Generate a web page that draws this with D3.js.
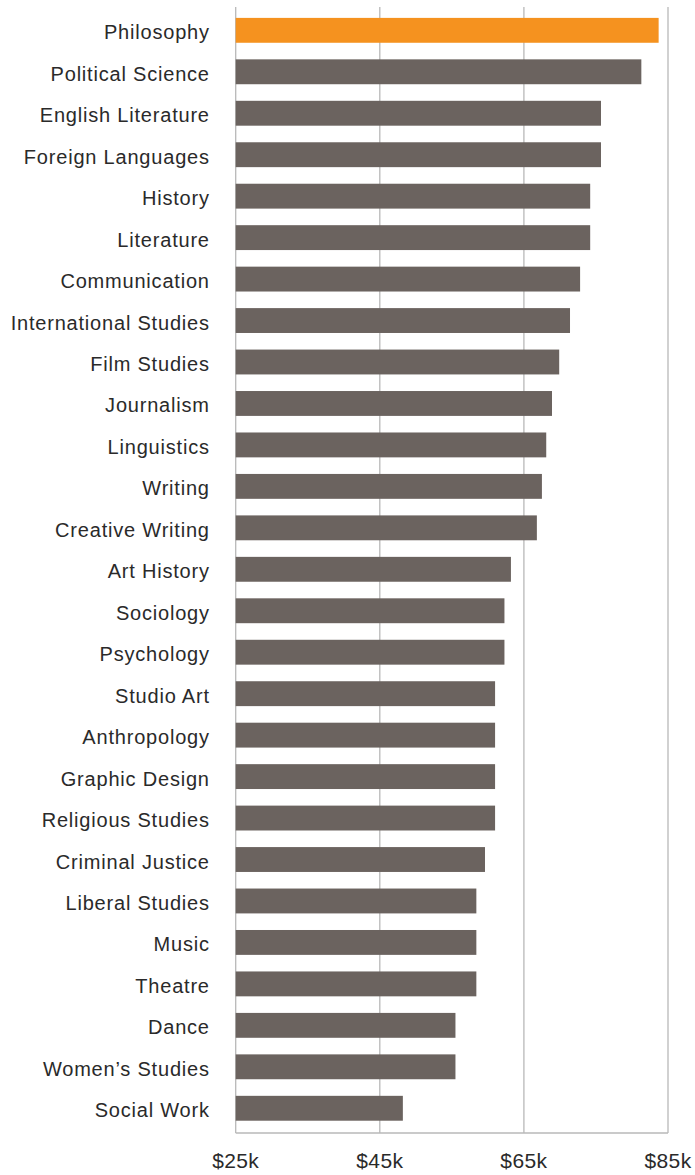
<!DOCTYPE html>
<html><head><meta charset="utf-8">
<script src="https://cdn.jsdelivr.net/npm/d3@7"></script>
<style>body{margin:0;background:#fff;} svg{display:block;}</style>
</head><body>
<svg id="c" width="695" height="1175"></svg>
<script>
const majors = ["Philosophy","Political Science","English Literature","Foreign Languages","History","Literature","Communication","International Studies","Film Studies","Journalism","Linguistics","Writing","Creative Writing","Art History","Sociology","Psychology","Studio Art","Anthropology","Graphic Design","Religious Studies","Criminal Justice","Liberal Studies","Music","Theatre","Dance","Women\u2019s Studies","Social Work"];
const salaries = [83.7,81.3,75.7,75.7,74.2,74.2,72.8,71.4,69.9,68.9,68.1,67.5,66.8,63.2,62.3,62.3,61.0,61.0,61.0,61.0,59.6,58.4,58.4,58.4,55.5,55.5,48.2];
const tickValues = [25,45,65,85];
const tickLabels = ["$25k","$45k","$65k","$85k"];
const highlight = "Philosophy";

const svg = d3.select("#c");
const x = d3.scaleLinear().domain([25,85]).range([235.7,668]);
const y = d3.scaleBand().domain(majors).range([9.6,1129]).paddingInner(0.4).paddingOuter(0.2);
const gridTop = 7, axisY = 1133;
const font = "'Liberation Sans', Arial, Helvetica, sans-serif";

// gridlines
svg.append("g").selectAll("line").data(tickValues).join("line")
  .attr("x1", d=>x(d)).attr("x2", d=>x(d))
  .attr("y1", gridTop).attr("y2", axisY)
  .attr("stroke","#b8b8b8").attr("stroke-width",1.3);

// bottom axis line
svg.append("line").attr("x1", x(25)).attr("x2", x(85)).attr("y1", axisY).attr("y2", axisY)
  .attr("stroke","#b8b8b8").attr("stroke-width",1.3);

// bars
const data = majors.map((m,i)=>({m, v:salaries[i]}));
svg.append("g").selectAll("rect").data(data).join("rect")
  .attr("x", x(25)).attr("y", d=>y(d.m))
  .attr("width", d=>x(d.v)-x(25)).attr("height", y.bandwidth())
  .attr("fill", d=>d.m===highlight ? "#F5921F" : "#6B635F");

// category labels
svg.append("g").selectAll("text").data(majors).join("text")
  .attr("x", 209.8).attr("y", d=>y(d)+y.bandwidth()/2 + 9)
  .attr("text-anchor","end").attr("font-family",font).attr("font-size",20)
  .attr("letter-spacing","0.8px")
  .attr("fill","#2a2a2a").text(d=>d);

// tick labels
svg.append("g").selectAll("text").data(tickValues).join("text")
  .attr("x", d=>x(d)).attr("y", 1168.3).attr("text-anchor","middle")
  .attr("font-family",font).attr("font-size",21).attr("letter-spacing","0.4px")
  .attr("fill","#2a2a2a")
  .text((d,i)=>tickLabels[i]);
</script>
</body></html>
